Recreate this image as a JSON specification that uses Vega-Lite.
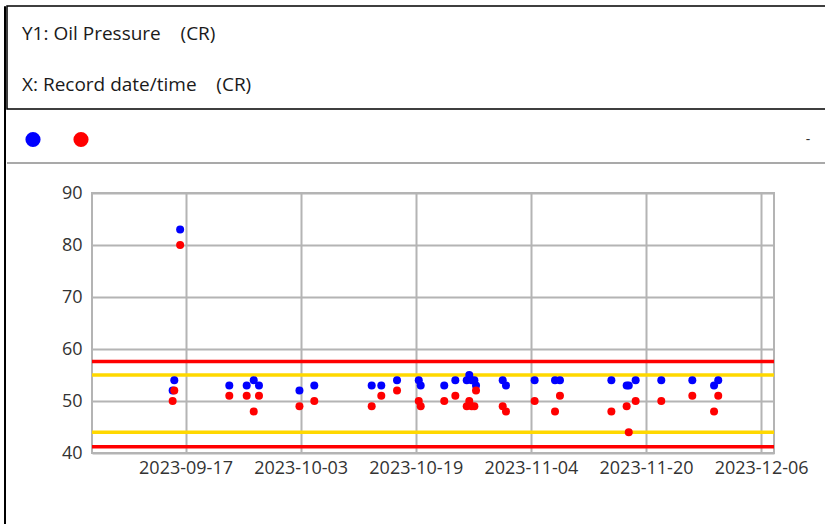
{
  "$schema": "https://vega.github.io/schema/vega-lite/v6.json",
  "padding": {"left": 3, "top": 5, "right": -5, "bottom": 0},
  "background": "white",
  "config": {
    "font": "Open Sans",
    "view": {"stroke": null},
    "axis": {
      "labelFont": "Open Sans",
      "labelFontSize": 18,
      "labelColor": "#333333",
      "ticks": false,
      "domain": false,
      "gridColor": "#b4b4b4",
      "gridWidth": 2,
      "gridOpacity": 1,
      "title": null
    }
  },
  "datasets": {
    "header": [
      {"label": "Y1: Oil Pressure\u00a0\u00a0\u00a0 (CR)"},
      {"label": "X: Record date/time\u00a0\u00a0\u00a0 (CR)"}
    ],
    "series": [
      {"series": "Series 1"},
      {"series": "Series 2"}
    ],
    "note": [{"text": "-"}],
    "limits": [
      {"level": "alarm", "value": 57.6},
      {"level": "warning", "value": 55},
      {"level": "warning", "value": 44},
      {"level": "alarm", "value": 41.2}
    ],
    "readings": [
      {"time": "2023-09-15T05:00:00", "series": "Series 1", "value": 52},
      {"time": "2023-09-15T10:30:00", "series": "Series 1", "value": 54},
      {"time": "2023-09-16T06:00:00", "series": "Series 1", "value": 83},
      {"time": "2023-09-23T02:00:00", "series": "Series 1", "value": 53},
      {"time": "2023-09-25T12:00:00", "series": "Series 1", "value": 53},
      {"time": "2023-09-26T11:30:00", "series": "Series 1", "value": 54},
      {"time": "2023-09-27T05:00:00", "series": "Series 1", "value": 53},
      {"time": "2023-10-02T20:00:00", "series": "Series 1", "value": 52},
      {"time": "2023-10-04T21:30:00", "series": "Series 1", "value": 53},
      {"time": "2023-10-12T21:00:00", "series": "Series 1", "value": 53},
      {"time": "2023-10-14T05:00:00", "series": "Series 1", "value": 53},
      {"time": "2023-10-16T09:30:00", "series": "Series 1", "value": 54},
      {"time": "2023-10-19T10:00:00", "series": "Series 1", "value": 54},
      {"time": "2023-10-19T16:30:00", "series": "Series 1", "value": 53},
      {"time": "2023-10-22T23:00:00", "series": "Series 1", "value": 53},
      {"time": "2023-10-24T12:00:00", "series": "Series 1", "value": 54},
      {"time": "2023-10-26T02:00:00", "series": "Series 1", "value": 54},
      {"time": "2023-10-26T10:30:00", "series": "Series 1", "value": 55},
      {"time": "2023-10-26T18:30:00", "series": "Series 1", "value": 54},
      {"time": "2023-10-27T03:30:00", "series": "Series 1", "value": 54},
      {"time": "2023-10-27T09:00:00", "series": "Series 1", "value": 53},
      {"time": "2023-10-31T02:00:00", "series": "Series 1", "value": 54},
      {"time": "2023-10-31T13:00:00", "series": "Series 1", "value": 53},
      {"time": "2023-11-04T12:30:00", "series": "Series 1", "value": 54},
      {"time": "2023-11-07T08:30:00", "series": "Series 1", "value": 54},
      {"time": "2023-11-08T01:00:00", "series": "Series 1", "value": 54},
      {"time": "2023-11-15T04:30:00", "series": "Series 1", "value": 54},
      {"time": "2023-11-17T07:30:00", "series": "Series 1", "value": 53},
      {"time": "2023-11-17T14:30:00", "series": "Series 1", "value": 53},
      {"time": "2023-11-18T13:30:00", "series": "Series 1", "value": 54},
      {"time": "2023-11-22T03:00:00", "series": "Series 1", "value": 54},
      {"time": "2023-11-26T10:30:00", "series": "Series 1", "value": 54},
      {"time": "2023-11-29T11:00:00", "series": "Series 1", "value": 53},
      {"time": "2023-11-30T01:00:00", "series": "Series 1", "value": 54},
      {"time": "2023-09-15T05:00:00", "series": "Series 2", "value": 50},
      {"time": "2023-09-15T10:30:00", "series": "Series 2", "value": 52},
      {"time": "2023-09-16T06:00:00", "series": "Series 2", "value": 80},
      {"time": "2023-09-23T02:00:00", "series": "Series 2", "value": 51},
      {"time": "2023-09-25T12:00:00", "series": "Series 2", "value": 51},
      {"time": "2023-09-26T11:30:00", "series": "Series 2", "value": 48},
      {"time": "2023-09-27T05:00:00", "series": "Series 2", "value": 51},
      {"time": "2023-10-02T20:00:00", "series": "Series 2", "value": 49},
      {"time": "2023-10-04T21:30:00", "series": "Series 2", "value": 50},
      {"time": "2023-10-12T21:00:00", "series": "Series 2", "value": 49},
      {"time": "2023-10-14T05:00:00", "series": "Series 2", "value": 51},
      {"time": "2023-10-16T09:30:00", "series": "Series 2", "value": 52},
      {"time": "2023-10-19T10:00:00", "series": "Series 2", "value": 50},
      {"time": "2023-10-19T16:30:00", "series": "Series 2", "value": 49},
      {"time": "2023-10-22T23:00:00", "series": "Series 2", "value": 50},
      {"time": "2023-10-24T12:00:00", "series": "Series 2", "value": 51},
      {"time": "2023-10-26T02:00:00", "series": "Series 2", "value": 49},
      {"time": "2023-10-26T10:30:00", "series": "Series 2", "value": 50},
      {"time": "2023-10-26T18:30:00", "series": "Series 2", "value": 49},
      {"time": "2023-10-27T03:30:00", "series": "Series 2", "value": 49},
      {"time": "2023-10-27T09:00:00", "series": "Series 2", "value": 52},
      {"time": "2023-10-31T02:00:00", "series": "Series 2", "value": 49},
      {"time": "2023-10-31T13:00:00", "series": "Series 2", "value": 48},
      {"time": "2023-11-04T12:30:00", "series": "Series 2", "value": 50},
      {"time": "2023-11-07T08:30:00", "series": "Series 2", "value": 48},
      {"time": "2023-11-08T01:00:00", "series": "Series 2", "value": 51},
      {"time": "2023-11-15T04:30:00", "series": "Series 2", "value": 48},
      {"time": "2023-11-17T07:30:00", "series": "Series 2", "value": 49},
      {"time": "2023-11-17T14:30:00", "series": "Series 2", "value": 44},
      {"time": "2023-11-18T13:30:00", "series": "Series 2", "value": 50},
      {"time": "2023-11-22T03:00:00", "series": "Series 2", "value": 50},
      {"time": "2023-11-26T10:30:00", "series": "Series 2", "value": 51},
      {"time": "2023-11-29T11:00:00", "series": "Series 2", "value": 48},
      {"time": "2023-11-30T01:00:00", "series": "Series 2", "value": 51}
    ]
  },
  "spacing": 0,
  "resolve": {"scale": {"x": "independent", "y": "independent", "color": "independent"}},
  "hconcat": [
    {
      "width": 1,
      "height": 518,
      "view": {"stroke": "#000000", "strokeWidth": 1},
      "data": {"name": "note"},
      "mark": {"type": "point", "opacity": 0, "size": 0},
      "encoding": {}
    },
    {
      "spacing": 0,
      "resolve": {"scale": {"x": "independent", "y": "independent", "color": "independent"}},
      "vconcat": [
        {
          "width": 822,
          "height": 103,
          "view": {"stroke": "#000000", "strokeWidth": 1.5},
          "data": {"name": "header"},
          "mark": {"type": "text", "align": "left", "baseline": "middle", "fontSize": 19, "color": "#1a1a1a", "dy": 2},
          "encoding": {
            "x": {"value": 15},
            "y": {"field": "label", "type": "nominal", "sort": null, "axis": null},
            "text": {"field": "label"}
          }
        },
        {
          "spacing": 19,
          "resolve": {"scale": {"x": "independent", "y": "independent", "color": "independent"}},
          "vconcat": [
            {
              "width": 822,
              "height": 53,
              "layer": [
                {
                  "data": {"name": "series"},
                  "mark": {"type": "point", "filled": true, "size": 230, "opacity": 1, "yOffset": 3},
                  "encoding": {
                    "x": {"field": "series", "type": "nominal", "axis": null, "scale": {"type": "point", "padding": 0, "range": [26, 74]}},
                    "color": {"field": "series", "type": "nominal", "legend": null, "scale": {"domain": ["Series 1", "Series 2"], "range": ["#0000ff", "#ff0000"]}}
                  }
                },
                {
                  "data": {"name": "note"},
                  "mark": {"type": "text", "fontSize": 14, "align": "center", "baseline": "middle", "dx": -21, "dy": 3, "color": "#333333"},
                  "encoding": {"x": {"value": "width"}, "text": {"field": "text"}}
                },
                {
                  "data": {"name": "note"},
                  "mark": {"type": "rule", "color": "#a9a9a9", "strokeWidth": 2},
                  "encoding": {"x": {"value": 0}, "x2": {"value": "width"}, "y": {"value": "height"}}
                }
              ]
            },
            {
              "spacing": 43,
              "resolve": {"scale": {"x": "independent", "y": "independent", "color": "independent"}},
              "hconcat": [
                {
                  "width": 1,
                  "height": 260,
                  "data": {"name": "note"},
                  "mark": {"type": "point", "opacity": 0, "size": 0},
                  "encoding": {}
                },
                {
                  "width": 682,
                  "height": 260,
                  "view": {"stroke": "#b4b4b4", "strokeWidth": 2},
                  "resolve": {"scale": {"color": "independent"}},
                  "encoding": {
                    "y": {
                      "field": "value",
                      "type": "quantitative",
                      "scale": {"domain": [40, 90], "nice": false, "zero": false},
                      "axis": {"values": [40, 50, 60, 70, 80, 90], "grid": true, "labelPadding": 10, "minExtent": 40}
                    }
                  },
                  "layer": [
                    {
                      "data": {"name": "limits"},
                      "mark": {"type": "rule", "strokeWidth": 3.5},
                      "encoding": {
                        "color": {"field": "level", "type": "nominal", "legend": null, "scale": {"domain": ["alarm", "warning"], "range": ["#ff0000", "#ffd800"]}}
                      }
                    },
                    {
                      "data": {"name": "readings"},
                      "mark": {"type": "circle", "size": 64, "opacity": 1},
                      "encoding": {
                        "x": {
                          "field": "time",
                          "type": "temporal",
                          "scale": {"domain": [{"year": 2023, "month": 9, "date": 4}, {"year": 2023, "month": 12, "date": 7, "hours": 19}], "nice": false},
                          "axis": {
                            "values": [
                              {"year": 2023, "month": 9, "date": 17},
                              {"year": 2023, "month": 10, "date": 3},
                              {"year": 2023, "month": 10, "date": 19},
                              {"year": 2023, "month": 11, "date": 4},
                              {"year": 2023, "month": 11, "date": 20},
                              {"year": 2023, "month": 12, "date": 6}
                            ],
                            "format": "%Y-%m-%d",
                            "grid": true,
                            "labelPadding": 6,
                            "labelFlush": false,
                            "labelOverlap": false
                          }
                        },
                        "color": {"field": "series", "type": "nominal", "legend": null, "scale": {"domain": ["Series 1", "Series 2"], "range": ["#0000ff", "#ff0000"]}}
                      }
                    }
                  ]
                }
              ]
            }
          ]
        }
      ]
    }
  ]
}
